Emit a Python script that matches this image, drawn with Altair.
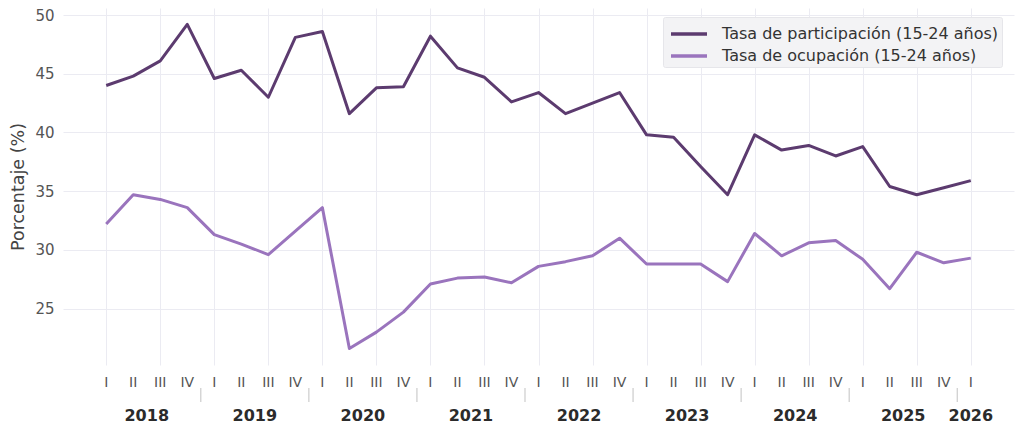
import altair as alt
import pandas as pd

years = ["2018"] * 4 + ["2019"] * 4 + ["2020"] * 4 + ["2021"] * 4 + ["2022"] * 4 + \
        ["2023"] * 4 + ["2024"] * 4 + ["2025"] * 4 + ["2026"]
quarters = ["I", "II", "III", "IV"] * 8 + ["I"]

participacion = [44.0, 44.8, 46.1, 49.2, 44.6, 45.3, 43.0, 48.1,
                 48.6, 41.6, 43.8, 43.9, 48.2, 45.5, 44.7, 42.6,
                 43.4, 41.6, 42.5, 43.4, 39.8, 39.6, 37.1, 34.7,
                 39.8, 38.5, 38.9, 38.0, 38.8, 35.4, 34.7, 35.3, 35.9]
ocupacion = [32.2, 34.7, 34.3, 33.6, 31.3, 30.5, 29.6, 31.6,
             33.6, 21.6, 23.0, 24.7, 27.1, 27.6, 27.7, 27.2,
             28.6, 29.0, 29.5, 31.0, 28.8, 28.8, 28.8, 27.3,
             31.4, 29.5, 30.6, 30.8, 29.2, 26.7, 29.8, 28.9, 29.3]

s1 = "Tasa de participación (15-24 años)"
s2 = "Tasa de ocupación (15-24 años)"
colors = ["#5c3b6f", "#9a74bd"]

FONT = "DejaVu Sans"

idx = list(range(len(quarters)))
rows = []
for i in idx:
    rows.append({"idx": i, "serie": s1, "valor": participacion[i]})
    rows.append({"idx": i, "serie": s2, "valor": ocupacion[i]})
df = pd.DataFrame(rows)

qdf = pd.DataFrame({"idx": idx, "q": quarters, "year": years})
ydf = qdf.groupby("year", as_index=False)["idx"].mean()
sep = pd.DataFrame({"pos": [i - 0.5 for i in idx[1:] if years[i] != years[i - 1]]})

xscale = alt.Scale(domain=[-1.6, len(idx) - 1 + 1.6], nice=False, zero=False)
yscale = alt.Scale(domain=[20.2, 50.6], nice=False, zero=False)

lines = alt.Chart(df).mark_line(strokeWidth=3, strokeJoin="round").encode(
    x=alt.X("idx:Q", scale=xscale,
            axis=alt.Axis(values=idx, labels=False, ticks=False, domain=False,
                          grid=True, gridColor="#ebebf2", title=None)),
    y=alt.Y("valor:Q", scale=yscale,
            axis=alt.Axis(values=[25, 30, 35, 40, 45, 50], ticks=False, domain=False,
                          grid=True, gridColor="#ebebf2", labelColor="#555555",
                          labelFontSize=15, labelFont=FONT, labelPadding=9,
                          title="Porcentaje (%)", titleFont=FONT, titleFontSize=17.5,
                          titleFontWeight="normal", titleColor="#444444", titlePadding=7)),
    color=alt.Color("serie:N", sort=[s1, s2],
                    scale=alt.Scale(domain=[s1, s2], range=colors),
                    legend=alt.Legend(title=None, orient="none", legendX=600, legendY=9,
                                      fillColor="#f3f3f5", strokeColor="#e6e6ea",
                                      padding=3, symbolType="M-1.5,0L1.5,0",
                                      symbolStrokeWidth=3.5, symbolSize=576,
                                      symbolOffset=9, labelFontSize=16, labelFont=FONT,
                                      labelColor="#333333", rowPadding=0, labelOffset=19,
                                      labelLimit=500, cornerRadius=2)),
)

qlabels = alt.Chart(qdf).mark_text(font=FONT, fontSize=14, color="#555555",
                                   baseline="middle").encode(
    x=alt.X("idx:Q", scale=xscale),
    y=alt.value(375),
    text="q:N",
)

ylabels = alt.Chart(ydf).mark_text(font=FONT, fontSize=16, fontWeight="bold",
                                   color="#2b2b2b", baseline="middle").encode(
    x=alt.X("idx:Q", scale=xscale),
    y=alt.value(408),
    text="year:N",
)

seps = alt.Chart(sep).mark_rule(color="#cccccc", strokeWidth=1.2).encode(
    x=alt.X("pos:Q", scale=xscale),
    y=alt.value(380),
    y2=alt.value(394),
)

chart = alt.layer(lines, qlabels, ylabels, seps).properties(
    width=951, height=357,
    autosize=alt.AutoSizeParams(type="none"),
    padding={"left": 55, "top": 0, "right": 2, "bottom": 60},
).configure(background="white").configure_view(stroke=None, strokeWidth=0)

chart.save("out.html", embed_options={"renderer": "svg", "actions": False})
